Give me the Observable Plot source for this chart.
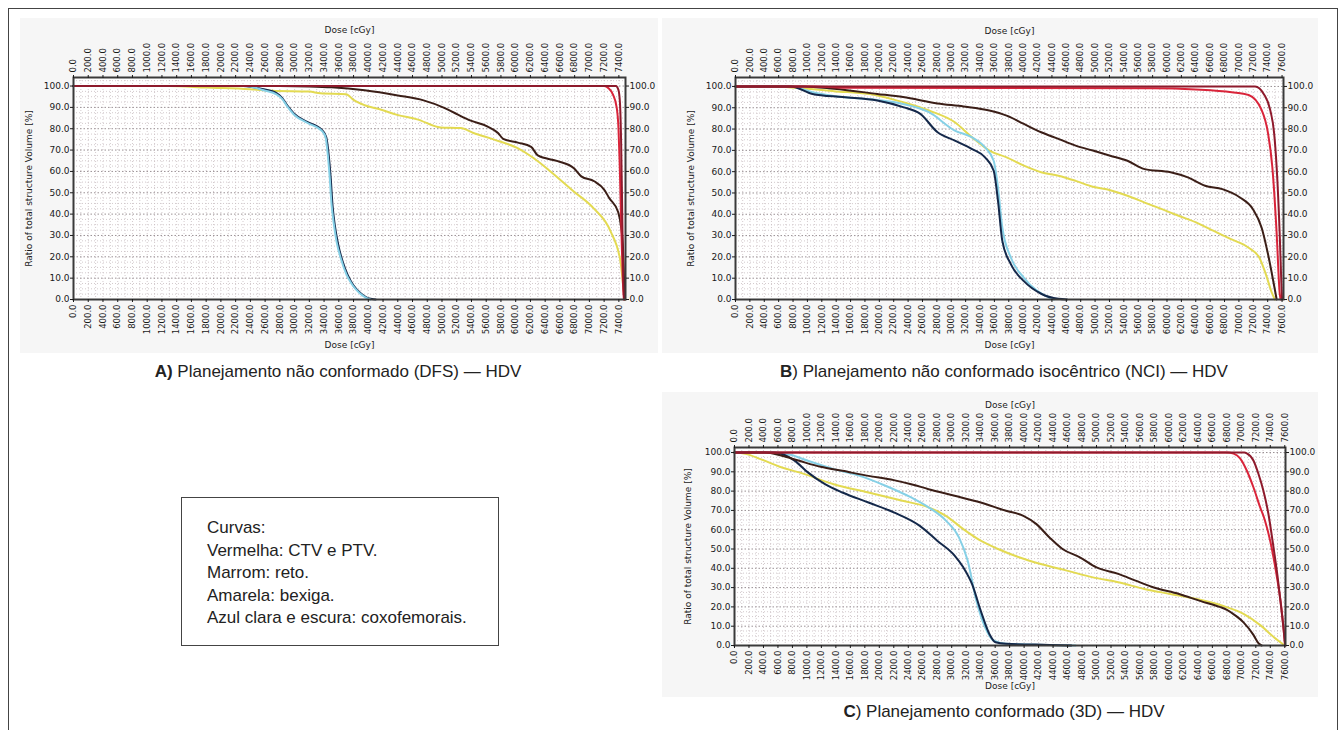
<!DOCTYPE html>
<html>
<head>
<meta charset="utf-8">
<script src="https://cdn.jsdelivr.net/npm/d3@7"></script>
<script src="https://cdn.jsdelivr.net/npm/@observablehq/plot@0.6"></script>
<style>
  body { margin:0; background:#fff; width:1343px; height:730px; overflow:hidden; position:relative; font-family:"Liberation Sans", Arial, sans-serif; }
  .abs { position:absolute; }
  .cap { position:absolute; text-align:center; font-size:17px; color:#222; line-height:20px; white-space:nowrap; }
  .cap b { font-weight:bold; }
  #legend { position:absolute; left:181px; top:497px; width:316px; height:147px; border:1px solid #444; box-sizing:content-box; font-size:17px; line-height:22.5px; color:#222; }
  #legend div { padding-left:25px; }
</style>
</head>
<body>
<div class="abs" style="left:8px; top:8px; width:1328px; height:780px; border:1px solid #444;"></div>
<div id="pA" class="abs" style="left:20px; top:18px;"></div>
<div id="pB" class="abs" style="left:662px; top:18px;"></div>
<div id="pC" class="abs" style="left:662px; top:392px;"></div>
<div class="cap" style="left:20px; width:636px; top:362px;"><b>A)</b> Planejamento não conformado (DFS) — HDV</div>
<div class="cap" style="left:704px; width:600px; top:362px;"><b>B</b>) Planejamento não conformado isocêntrico (NCI) — HDV</div>
<div class="cap" style="left:704px; width:600px; top:702px;"><b>C</b>) Planejamento conformado (3D) — HDV</div>
<div id="legend"><div style="height:19px"></div></div>
<script>
// ---- Legend text ----
const legendLines = ["Curvas:", "Vermelha: CTV e PTV.", "Marrom: reto.", "Amarela: bexiga.", "Azul clara e escura: coxofemorais."];

// ---- Axis labels / ticks ----
const xTitle = "Dose [cGy]";
const yTitle = "Ratio of total structure Volume [%]";
const yTicks = [0, 10, 20, 30, 40, 50, 60, 70, 80, 90, 100];
const xTicksA = d3.range(0, 7401, 200);
const xTicksBC = d3.range(0, 7601, 200);

// ---- Colours per structure ----
const colors = {
  yellow: "#e3da52", lblue: "#86d0e6", dblue: "#14284a",
  brown: "#3b1e17", red1: "#d9243a", red2: "#8e1a2c"
};

// ---- Panel A: DFS  [dose cGy, volume %] ----
const A_yellow = [[0,100],[1300,100],[1800,99.3],[2400,98.5],[2700,97.8],[3200,97.4],[3350,96.6],[3700,96.2],[3800,93.5],[3950,91],[4166,89],[4392,86.5],[4664,84.4],[4980,80.6],[5251,80.3],[5427,78],[5699,75],[6020,71],[6242,66.3],[6472,60],[6784,50.7],[7055,42.8],[7286,32],[7422,17.8],[7460,6],[7480,0]];
const A_lblue = [[0,100],[2350,100],[2450,99.3],[2580,98],[2760,96],[2830,94],[2900,90.5],[2990,86.7],[3170,82.8],[3370,79],[3420,76],[3450,68],[3475,58],[3500,45],[3530,36],[3570,27],[3630,19],[3700,12],[3780,7],[3880,3],[3960,1],[4030,0]];
const A_dblue = [[0,100],[2300,100],[2420,99.6],[2560,98.6],[2760,96.6],[2830,94.5],[2900,91],[2990,87.2],[3170,83.2],[3370,79.4],[3430,76],[3465,67],[3490,57],[3515,44],[3545,35],[3590,26],[3650,18],[3720,11.5],[3800,6.5],[3900,2.8],[3980,0.9],[4050,0.2],[4100,0]];
const A_brown = [[0,100],[2800,100],[3200,99.8],[3500,99.4],[3950,98],[4400,95.6],[4750,93.3],[5030,89.8],[5210,86.7],[5390,83.8],[5620,81],[5760,78],[5830,75.3],[6030,73.5],[6210,71.5],[6300,67.5],[6570,64.8],[6790,61.5],[6890,57.7],[7065,55.4],[7200,51.5],[7270,47.5],[7390,41],[7430,34],[7455,25],[7470,10],[7485,0]];
const A_red1 = [[0,100],[7200,100],[7260,99],[7320,96],[7370,90],[7395,80],[7410,65],[7425,45],[7440,25],[7455,8],[7468,0]];
const A_red2 = [[0,100],[7360,100],[7395,98],[7415,92],[7430,75],[7442,50],[7452,25],[7462,8],[7472,0]];

// ---- Panel B: NCI ----
const B_yellow = [[0,100],[530,100],[770,99.5],[1370,97.8],[1970,95.8],[2330,92.6],[2690,88.7],[3050,83.2],[3290,76.1],[3530,69.9],[3770,66.7],[4010,62.8],[4250,59.7],[4490,58.1],[4730,55.7],[4970,52.9],[5210,51.3],[5450,48.7],[5690,45.5],[5930,42.4],[6170,39.2],[6410,36.1],[6650,32.2],[6890,28.3],[7135,24.3],[7285,19.6],[7375,11.8],[7460,3],[7500,0]];
const B_lblue = [[0,100],[770,100],[1070,97.3],[1490,95],[1970,93.7],[2330,91.8],[2690,87.9],[3050,79.3],[3290,76.1],[3470,71.4],[3590,65.1],[3650,52.6],[3710,33.8],[3830,19.6],[4010,10.2],[4190,4.2],[4370,0.8],[4430,0]];
const B_dblue = [[0,100],[770,100],[1070,96.5],[1490,95],[1970,93.4],[2330,90.3],[2570,87.1],[2810,78.5],[3050,74.6],[3290,70.6],[3470,66.7],[3590,60.4],[3650,46.3],[3710,27.5],[3830,16.5],[4010,8.6],[4250,2.7],[4490,0.3],[4610,0]];
const B_brown = [[0,100],[950,100],[1370,98.9],[1970,96.5],[2330,95],[2810,92],[3170,90.6],[3530,88.7],[3770,86.3],[4010,82.4],[4250,78.5],[4490,75.4],[4730,72.2],[4970,69.9],[5210,67.5],[5450,65.1],[5690,61.2],[6050,59.7],[6290,57.3],[6530,53.4],[6770,51.8],[7015,47.9],[7195,42.4],[7315,33.8],[7405,21.2],[7495,5.5],[7525,0]];
const B_red1 = [[0,100],[1100,100],[1500,99.4],[5800,99.2],[6400,98.6],[6900,97.3],[7135,96],[7315,89],[7405,78],[7465,62],[7525,31],[7567,3],[7580,0]];
const B_red2 = [[0,100],[7225,100],[7345,96.5],[7435,89],[7490,78],[7525,62],[7567,31],[7590,8],[7600,0]];

// ---- Panel C: 3D conformal ----
const C_yellow = [[0,100],[150,99.3],[360,96.6],[655,92.2],[894,89.7],[1370,83.6],[1850,79.3],[2320,75],[2680,71.6],[2920,67.2],[3160,60.3],[3400,54.3],[3640,50],[3930,45.7],[4230,42.2],[4590,38.8],[4950,35.3],[5300,32.8],[5660,29.3],[6020,26.7],[6380,24.1],[6730,20.7],[7030,16.4],[7270,10.3],[7450,4.3],[7600,0]];
const C_lblue = [[0,100],[600,100],[775,98.8],[1013,95.7],[1370,91.4],[1730,87.9],[2085,82.8],[2440,76.7],[2680,71.6],[2920,64.7],[3100,56],[3220,44],[3340,23.3],[3460,9.5],[3575,2.6],[3750,0.9],[4350,0.3],[4710,0]];
const C_dblue = [[0,100],[540,100],[834,95.7],[1013,89.7],[1250,83.6],[1490,79.3],[1850,74.1],[2200,69],[2560,62],[2800,54.3],[3040,46.6],[3160,40.5],[3280,31.9],[3400,18.1],[3520,6],[3605,1.7],[3750,0.9],[4350,0.3],[4650,0]];
const C_brown = [[0,100],[420,100],[655,98.3],[894,95.7],[1190,92.6],[1490,90.5],[1850,87.9],[2200,85.7],[2440,83.6],[2680,81],[3040,77.6],[3400,74.1],[3750,69.8],[3990,67.2],[4170,62.9],[4350,56],[4530,50],[4770,45.7],[5000,40.5],[5300,37.1],[5540,33.6],[5780,30.2],[6140,26.7],[6440,23],[6700,20],[6801,18.5],[6920,15.5],[7030,12],[7167,5.5],[7240,1],[7280,0]];
const C_red1 = [[0,100],[6800,100],[6893,99.4],[6983,97],[7075,90.7],[7167,82],[7258,71.8],[7326,64.8],[7400,54],[7480,38],[7545,22],[7585,8],[7605,0]];
const C_red2 = [[0,100],[7040,100],[7075,99.6],[7167,95.9],[7236,89],[7304,80.3],[7373,68.4],[7440,52],[7500,36],[7550,20],[7585,8],[7605,0]];

const fmt = d3.format(".1f");

function panel(cfg) {
  const {xmax, ymax, width, height, ml, mr, mt, mb, xTicks, series, dTop, dBottom, dxY} = cfg;
  const vGrid = d3.range(100, xmax, 100);
  const hMinor = d3.range(2.5, ymax, 2.5).filter(v => v % 10 !== 0);
  const hMajor = d3.range(10, 101, 10);
  const lines = series.map(([data, key]) =>
    Plot.line(data, {x: d => d[0], y: d => d[1], stroke: colors[key], strokeWidth: 2, curve: "monotone-x"}));
  return Plot.plot({
    width, height, marginLeft: ml, marginRight: mr, marginTop: mt, marginBottom: mb,
    x: {domain: [0, xmax]},
    y: {domain: [0, ymax]},
    style: {background: "#f6f6f6", fontFamily: "'DejaVu Sans', sans-serif", color: "#1a1a1a", overflow: "visible"},
    marks: [
      Plot.frame({fill: "white"}),
      Plot.ruleX(vGrid, {stroke: "#c8bcc0", strokeDasharray: "1,2", strokeWidth: 0.8}),
      Plot.ruleY(hMinor, {stroke: "#c8bcc0", strokeDasharray: "1,2", strokeWidth: 0.8}),
      Plot.ruleY(hMajor, {stroke: "#9a9094", strokeDasharray: "1.5,2", strokeWidth: 1}),
      ...lines,
      Plot.frame({stroke: "#3a3a3a", strokeWidth: 2}),
      Plot.axisX({anchor: "bottom", ticks: xTicks, tickFormat: fmt, tickRotate: -90, tickSize: 3, tickPadding: 2, fontSize: 8.5, label: null}),
      Plot.axisX({anchor: "top", ticks: xTicks, tickFormat: fmt, tickRotate: -90, tickSize: 3, tickPadding: 2, fontSize: 8.5, label: null}),
      Plot.axisY({anchor: "left", ticks: yTicks, tickFormat: fmt, tickSize: 3, tickPadding: 1, fontSize: 9, label: null}),
      Plot.axisY({anchor: "right", ticks: yTicks, tickFormat: fmt, tickSize: 3, tickPadding: 1, fontSize: 9, label: null}),
      Plot.text([xTitle], {frameAnchor: "top", dy: dTop, fontSize: 9, fill: "#1a1a1a"}),
      Plot.text([xTitle], {frameAnchor: "bottom", dy: dBottom, fontSize: 9, fill: "#1a1a1a"}),
      Plot.text([yTitle], {frameAnchor: "left", dx: dxY, rotate: -90, textAnchor: "middle", fontSize: 9, fill: "#1a1a1a"})
    ]
  });
}

document.getElementById("pA").append(panel({
  xmax: 7490, ymax: 104, width: 638, height: 335, ml: 53, mr: 33, mt: 59, mb: 54,
  xTicks: xTicksA, dTop: -51, dBottom: 48, dxY: -44,
  series: [[A_yellow,"yellow"],[A_dblue,"dblue"],[A_lblue,"lblue"],[A_brown,"brown"],[A_red1,"red1"],[A_red2,"red2"]]
}));
document.getElementById("pB").append(panel({
  xmax: 7620, ymax: 104.2, width: 656, height: 335, ml: 73, mr: 35, mt: 59, mb: 54,
  xTicks: xTicksBC, dTop: -50, dBottom: 48, dxY: -44,
  series: [[B_yellow,"yellow"],[B_lblue,"lblue"],[B_dblue,"dblue"],[B_brown,"brown"],[B_red1,"red1"],[B_red2,"red2"]]
}));
document.getElementById("pC").append(panel({
  xmax: 7610, ymax: 102.6, width: 656, height: 305, ml: 72, mr: 33, mt: 55, mb: 52,
  xTicks: xTicksBC, dTop: -46, dBottom: 43, dxY: -46,
  series: [[C_yellow,"yellow"],[C_lblue,"lblue"],[C_dblue,"dblue"],[C_brown,"brown"],[C_red1,"red1"],[C_red2,"red2"]]
}));

const lg = document.getElementById("legend");
legendLines.forEach(t => { const d = document.createElement("div"); d.textContent = t; lg.append(d); });
</script>
</body>
</html>
